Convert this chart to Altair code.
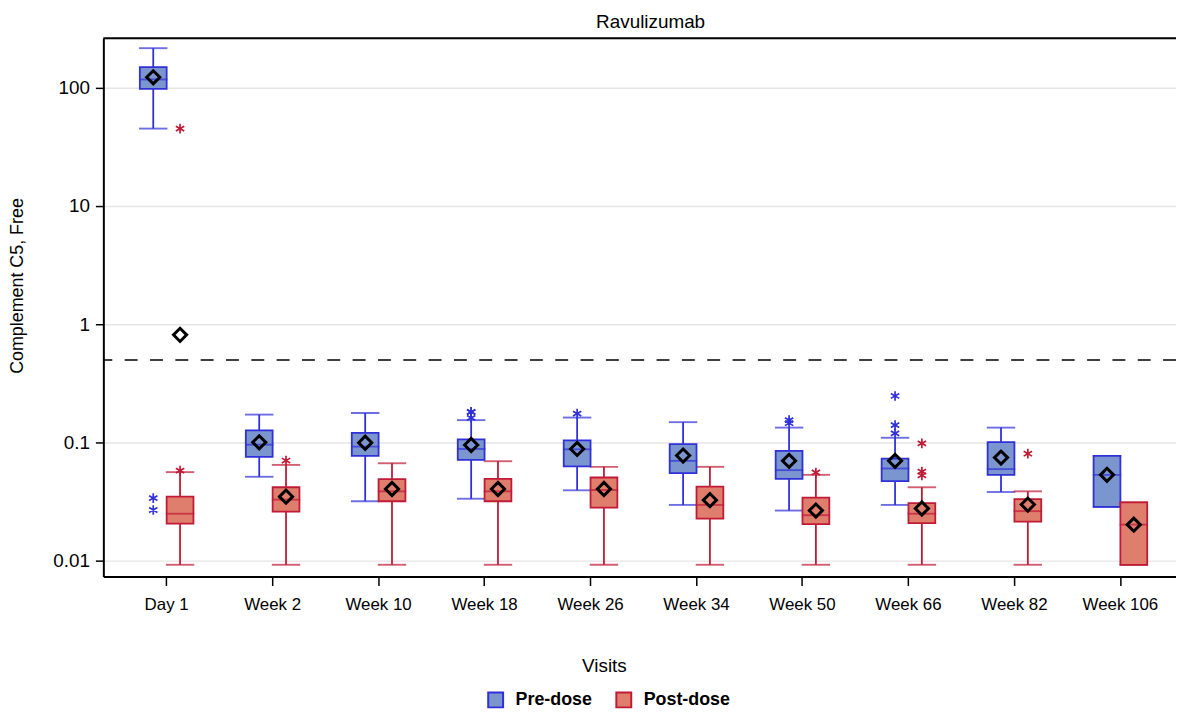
import altair as alt
import pandas as pd

visits = ["Day 1", "Week 2", "Week 10", "Week 18", "Week 26", "Week 34",
          "Week 50", "Week 66", "Week 82", "Week 106"]
groups = ["Pre-dose", "Post-dose"]

# Pre-dose box statistics (whisker low, Q1, median, Q3, whisker high, mean)
pre_lo = [45.0, 0.0515, 0.032, 0.0336, 0.0396, 0.0298, 0.0267, 0.0298, 0.0383, 0.0287]
pre_q1 = [97.5, 0.0757, 0.0772, 0.0715, 0.063, 0.0553, 0.0495, 0.0474, 0.0535, 0.0287]
pre_med = [117.0, 0.0962, 0.0925, 0.0885, 0.0879, 0.0702, 0.0586, 0.0605, 0.0598, 0.0535]
pre_q3 = [149.0, 0.1268, 0.121, 0.1066, 0.1045, 0.0974, 0.0851, 0.0734, 0.101, 0.0772]
pre_hi = [215.0, 0.1726, 0.178, 0.155, 0.163, 0.149, 0.134, 0.110, 0.134, 0.0772]
pre_mean = [122.0, 0.1006, 0.0999, 0.0955, 0.0885, 0.0778, 0.0702, 0.0702, 0.0748, 0.0535]

# Post-dose box statistics
post_lo = [0.0093, 0.0093, 0.0093, 0.0093, 0.0093, 0.0093, 0.0093, 0.0093, 0.0093, 0.0093]
post_q1 = [0.0207, 0.0262, 0.032, 0.032, 0.0283, 0.0228, 0.0205, 0.0209, 0.0215, 0.0093]
post_med = [0.0251, 0.033, 0.0388, 0.0388, 0.0398, 0.0298, 0.0244, 0.0251, 0.0264, 0.0203]
post_q3 = [0.035, 0.042, 0.0492, 0.0495, 0.0508, 0.0425, 0.0343, 0.0308, 0.0333, 0.0313]
post_hi = [0.0564, 0.0649, 0.067, 0.0697, 0.0625, 0.0625, 0.0535, 0.042, 0.0388, 0.0313]
post_mean = [0.814, 0.035, 0.0406, 0.0406, 0.0406, 0.0327, 0.0267, 0.0278, 0.030, 0.0203]

# Outliers
out_visit = ["Day 1", "Day 1", "Day 1", "Day 1", "Week 2",
             "Week 18", "Week 18", "Week 18", "Week 26",
             "Week 50", "Week 50", "Week 50",
             "Week 66", "Week 66", "Week 66", "Week 66", "Week 66", "Week 66",
             "Week 82"]
out_group = ["Pre-dose", "Pre-dose", "Post-dose", "Post-dose", "Post-dose",
             "Pre-dose", "Pre-dose", "Pre-dose", "Pre-dose",
             "Pre-dose", "Pre-dose", "Post-dose",
             "Pre-dose", "Pre-dose", "Pre-dose", "Post-dose", "Post-dose", "Post-dose",
             "Post-dose"]
out_value = [0.034, 0.027, 45.0, 0.058, 0.0706,
             0.182, 0.181, 0.162, 0.176,
             0.155, 0.146, 0.056,
             0.248, 0.1406, 0.1197, 0.0986, 0.057, 0.053,
             0.0807]

ref_value = [0.5]

fill_colors = ["#7b96cf", "#e07e6e"]
stroke_colors = ["#3030d8", "#c01a36"]

rows = []
for i, v in enumerate(visits):
    rows.append(dict(visit=v, group="Pre-dose", lo=pre_lo[i], q1=pre_q1[i], med=pre_med[i],
                     q3=pre_q3[i], hi=pre_hi[i], mean=pre_mean[i]))
    rows.append(dict(visit=v, group="Post-dose", lo=post_lo[i], q1=post_q1[i], med=post_med[i],
                     q3=post_q3[i], hi=post_hi[i], mean=post_mean[i]))
stats = pd.DataFrame(rows)
outliers = pd.DataFrame(dict(visit=out_visit, group=out_group, value=out_value))
ref = pd.DataFrame(dict(ref=ref_value))
frame = pd.DataFrame(dict(k=[0]))

FONT = "Liberation Sans"
W, H = 1080, 542

xenc = alt.X("visit:N", sort=visits,
             scale=alt.Scale(domain=visits, paddingInner=0.494, paddingOuter=0.308, align=0.559),
             axis=alt.Axis(title="Visits", labelAngle=0, labelFontSize=17, labelFont=FONT,
                           labelColor="black", titleFontSize=19, titleFont=FONT,
                           titleFontWeight="normal", titleColor="black",
                           titleX=504, titleY=90, titleBaseline="middle",
                           tickSize=9, tickColor="black", tickWidth=1.5,
                           domainColor="black", domainWidth=2, labelPadding=11, grid=False))
xoff = alt.XOffset("group:N", sort=groups,
                   scale=alt.Scale(domain=groups, paddingInner=0, paddingOuter=0))
yscale = alt.Scale(type="log", domain=[0.0074, 261], nice=False)
yaxis = alt.Axis(title="Complement C5, Free", values=[0.01, 0.1, 1, 10, 100], format="~g",
                 labelFontSize=19, labelFont=FONT, labelColor="black",
                 titleFontSize=18, titleFont=FONT, titleFontWeight="normal", titleColor="black",
                 titleX=-86, titleY=249, titleBaseline="middle",
                 tickSize=8, tickColor="black", tickWidth=1.5,
                 domainColor="black", domainWidth=2, labelPadding=6,
                 grid=True, gridColor="#e6e6e6", gridWidth=1.5)

stroke_scale = alt.Scale(domain=groups, range=stroke_colors)
fill_scale = alt.Scale(domain=groups, range=fill_colors)

leg = alt.Legend(title=None, orient="none", legendX=386, legendY=657,
                 direction="horizontal", symbolType="square",
                 symbolSize=225, symbolStrokeWidth=2, symbolOpacity=1,
                 labelFontSize=18, labelFont=FONT, labelFontWeight="bold",
                 labelColor="black", labelOffset=11, columnPadding=19,
                 padding=0)


def stroke_enc():
    return alt.Stroke("group:N", scale=stroke_scale, legend=leg)


base = alt.Chart(stats).encode(x=xenc, xOffset=xoff)

whisk = base.mark_rule(strokeWidth=1.8).encode(
    y=alt.Y("lo:Q", scale=yscale, axis=yaxis),
    y2="hi:Q",
    stroke=stroke_enc(),
)
cap_lo = base.mark_tick(size=27, thickness=0.3, filled=False, strokeWidth=1.6).encode(
    y=alt.Y("lo:Q"), stroke=stroke_enc())
cap_hi = base.mark_tick(size=27, thickness=0.3, filled=False, strokeWidth=1.6).encode(
    y=alt.Y("hi:Q"), stroke=stroke_enc())
box = base.mark_bar(strokeWidth=1.8, opacity=1).encode(
    y=alt.Y("q1:Q"), y2="q3:Q",
    fill=alt.Fill("group:N", scale=fill_scale, legend=leg),
    stroke=stroke_enc(),
)
median = base.mark_tick(size=27, thickness=0.3, filled=False, strokeWidth=1.6).encode(
    y=alt.Y("med:Q"), stroke=stroke_enc())
means = base.mark_point(shape="diamond", size=175, filled=False, strokeWidth=3,
                        color="black", opacity=1).encode(y=alt.Y("mean:Q"))

asterisk = "M0,-1L0,1M-0.866,-0.5L0.866,0.5M-0.866,0.5L0.866,-0.5"
outs = alt.Chart(outliers).mark_point(shape=asterisk, size=95, filled=False,
                                      strokeWidth=1.7, opacity=1).encode(
    x=alt.X("visit:N", sort=visits),
    xOffset=alt.XOffset("group:N", sort=groups),
    y=alt.Y("value:Q"),
    stroke=stroke_enc(),
)

refline = alt.Chart(ref).mark_rule(color="black", strokeWidth=1.5,
                                   strokeDash=[13, 12.5]).encode(y=alt.Y("ref:Q"))
topline = alt.Chart(frame).mark_rule(color="black", strokeWidth=2).encode(y=alt.value(0))

chart = alt.layer(whisk, cap_lo, cap_hi, box, median, refline, means, outs, topline).properties(
    width=W, height=H,
    title=alt.TitleParams("Ravulizumab", fontSize=19, font=FONT, fontWeight="normal",
                          color="black", frame="group", anchor="middle", dx=11, offset=5),
    autosize=alt.AutoSizeParams(type="none"),
    padding={"left": 96, "top": 28, "right": 0, "bottom": 136},
).configure_view(stroke=None).configure(background="white")

chart.save("out.html", embed_options={"renderer": "svg", "actions": False})
